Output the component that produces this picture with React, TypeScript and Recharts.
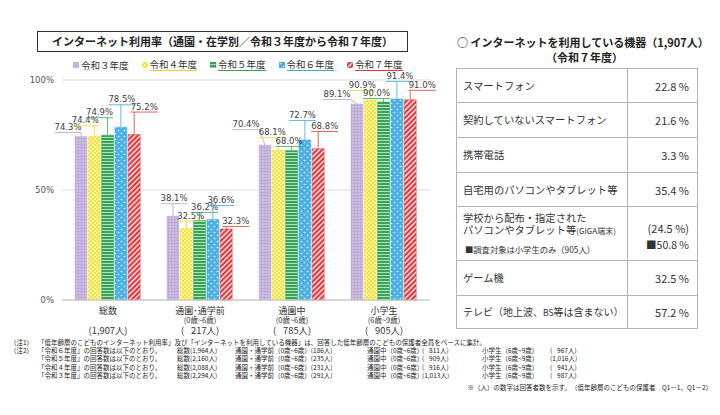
import React from 'react';
import { BarChart, Bar, XAxis, YAxis, CartesianGrid, Legend } from 'recharts';

const JP = "'Noto Sans CJK JP', 'Noto Sans', sans-serif";
const NUM = "'DejaVu Sans', sans-serif";

// chart data
const CATEGORIES = ['総数', '通園･通学前', '通園中', '小学生'];
const CATEGORY_AGES = ['', '(0歳~6歳)', '(0歳~6歳)', '(6歳~9歳)'];
const CATEGORY_COUNTS = ['(1,907人)', '(\u2007\u2009217人)', '(\u2007\u2009785人)', '(\u2007\u2009905人)'];
const YEARS = ['令和３年度', '令和４年度', '令和５年度', '令和６年度', '令和７年度'];
const R3 = [74.3, 38.1, 70.4, 89.1];
const R4 = [74.4, 32.5, 68.1, 90.9];
const R5 = [74.9, 36.2, 68.0, 90.0];
const R6 = [78.5, 36.6, 72.7, 91.4];
const R7 = [75.2, 32.3, 68.8, 91.0];
const Y_TICKS = [0, 50, 100];

// device table
const DEVICE_NAMES = [
  'スマートフォン',
  '契約していないスマートフォン',
  '携帯電話',
  '自宅用のパソコンやタブレット等',
  '学校から配布・指定された',
  'ゲーム機',
  'テレビ（地上波、BS等は含まない）',
];
const DEVICE_VALUES = [22.8, 21.6, 3.3, 35.4, 24.5, 32.5, 57.2];
const GIGA_ELEMENTARY = 50.8;

// footnote respondent counts
const NOTE_YEARS = ['令和６年度', '令和５年度', '令和４年度', '令和３年度'];
const NOTE_TOTAL = ['1,964', '2,160', '2,088', '2,294'];
const NOTE_PRE = ['186', '235', '231', '291'];
const NOTE_DAYCARE = ['\u2007\u2009811', '\u2007\u2009909', '\u2007\u2009916', '1,013'];
const NOTE_ELEM = ['\u2007\u2009967', '1,016', '\u2007\u2009941', '\u2007\u2009987'];

const SERIES = [
  { key: 'r3', values: R3, fill: 'url(#pat-r3)', base: '#c4b3dc', line: '#b5a1d2' },
  { key: 'r4', values: R4, fill: 'url(#pat-r4)', base: '#f0e13a', line: '#e6d538' },
  { key: 'r5', values: R5, fill: 'url(#pat-r5)', base: '#37a457', line: '#37a457' },
  { key: 'r6', values: R6, fill: 'url(#pat-r6)', base: '#47afe4', line: '#3aa7df' },
  { key: 'r7', values: R7, fill: 'url(#pat-r7)', base: '#e4363b', line: '#e4363b' },
];

// callout offsets [dx, dy] of each label from its bar top, per series / category
const LABEL_OFFSETS = [
  [[-13, -9.5], [1, -18], [-19, -21], [-20, -10]],
  [[-9, -16], [4.5, -13], [-6, -18], [-8, -15]],
  [[-8, -23], [5, -13.5], [-2.5, -9.5], [-7, -9]],
  [[1, -28], [8, -19.5], [-2.5, -25], [3, -23]],
  [[10, -28], [9.5, -8], [6.5, -22.6], [12, -15]],
];

const chartData = CATEGORIES.map((name, i) => {
  const row: Record<string, any> = { name };
  SERIES.forEach((s) => (row[s.key] = s.values[i]));
  return row;
});

function Patterns() {
  return (
    <svg width={0} height={0} style={{ position: 'absolute' }}>
      <defs>
        <pattern id="pat-r3" patternUnits="userSpaceOnUse" width={3} height={3}>
          <rect width={3} height={3} fill="#cdbfe2" />
          <path d="M0 0.5H3M0.5 0V3" stroke="#b7a4d3" strokeWidth={0.7} />
        </pattern>
        <pattern id="pat-r4" patternUnits="userSpaceOnUse" width={4} height={4}>
          <rect width={4} height={4} fill="#f2e33c" />
          <rect width={2} height={2} fill="#faf4a6" />
          <rect x={2} y={2} width={2} height={2} fill="#faf4a6" />
        </pattern>
        <pattern id="pat-r5" patternUnits="userSpaceOnUse" width={3} height={3}>
          <rect width={3} height={3} fill="#37a457" />
          <rect y={2} width={3} height={1} fill="#b5e0c0" />
        </pattern>
        <pattern id="pat-r6" patternUnits="userSpaceOnUse" width={6} height={6}>
          <rect width={6} height={6} fill="#4ab1e6" />
          <circle cx={1.5} cy={1.5} r={0.8} fill="#ffffff" />
          <circle cx={4.5} cy={4.5} r={0.8} fill="#ffffff" />
        </pattern>
        <pattern id="pat-r7" patternUnits="userSpaceOnUse" width={3.6} height={3.6} patternTransform="rotate(45)">
          <rect width={3.6} height={3.6} fill="#e4363b" />
          <rect width={1.3} height={3.6} fill="#ffffff" />
        </pattern>
      </defs>
    </svg>
  );
}

function makeLabel(seriesIndex: number) {
  const color = SERIES[seriesIndex].line;
  return (props: any) => {
    const { x, y, width, value, index } = props;
    const off = LABEL_OFFSETS[seriesIndex][index] || [0, -10];
    const barX = Number(x) + Number(width) / 2;
    const top = Number(y);
    const tx = barX + off[0];
    const ty = top + off[1];
    const w = 27;
    const uy = ty + 5.5;
    const px = Math.min(Math.max(barX, tx - w / 2), tx + w / 2);
    return (
      <g>
        <line x1={tx - w / 2} y1={uy} x2={tx + w / 2} y2={uy} stroke={color} strokeWidth={0.8} />
        <line x1={px} y1={uy} x2={barX} y2={top} stroke={color} strokeWidth={0.8} />
        <text x={tx} y={ty} textAnchor="middle" dominantBaseline="central" fontSize={8.5} fontFamily={NUM} fill="#404040">
          {Number(value).toFixed(1)}%
        </text>
      </g>
    );
  };
}

function CategoryTick(props: any) {
  const { x, y, payload, index } = props;
  const i = index ?? CATEGORIES.indexOf(payload.value);
  return (
    <g fontFamily={JP} fill="#333">
      <text x={x} y={y + 2} textAnchor="middle" dominantBaseline="central" fontSize={9}>
        {payload.value}
      </text>
      <text x={x} y={y + 11.5} textAnchor="middle" dominantBaseline="central" fontSize={7.5}>
        {CATEGORY_AGES[i]}
      </text>
      <text x={x} y={y + 21.5} textAnchor="middle" dominantBaseline="central" fontSize={9.3}>
        {CATEGORY_COUNTS[i]}
      </text>
    </g>
  );
}

function LegendContent() {
  return (
    <div style={{ display: 'flex', fontFamily: JP, fontSize: 9.5, color: '#333', lineHeight: '12px' }}>
      {YEARS.map((year, i) => (
        <div key={year} style={{ width: 68.5, display: 'flex', alignItems: 'center' }}>
          <svg width={6} height={6} style={{ marginRight: 2 }}>
            <rect width={6} height={6} fill={SERIES[i].fill} stroke={SERIES[i].base} strokeWidth={0.5} />
          </svg>
          <span style={{ borderBottom: i === 0 ? 'none' : `1px solid ${SERIES[i].line}` }}>{year}</span>
        </div>
      ))}
    </div>
  );
}

const cellBorder = '1px solid #b4b4b4';

function DeviceTable() {
  const heights = [34, 35, 35, 34, 54, 35, 33];
  return (
    <table
      style={{
        position: 'absolute',
        left: 456,
        top: 68,
        width: 241,
        borderCollapse: 'collapse',
        fontFamily: JP,
        color: '#333',
        tableLayout: 'fixed',
      }}
    >
      <colgroup>
        <col style={{ width: 171 }} />
        <col style={{ width: 70 }} />
      </colgroup>
      <tbody>
        {DEVICE_NAMES.map((name, i) => (
          <tr key={name} style={{ height: heights[i] }}>
            <td
              style={{
                border: cellBorder,
                padding: '0 0 0 6px',
                fontSize: i === 6 ? 10 : 10.3,
                lineHeight: '12px',
                whiteSpace: 'nowrap',
              }}
            >
              {i === 4 ? (
                <div>
                  <div>{name}</div>
                  <div>
                    パソコンやタブレット等<span style={{ fontSize: 8 }}>(GIGA端末)</span>
                  </div>
                  <div style={{ fontSize: 8.3, marginTop: 6, paddingLeft: 2 }}>■調査対象は小学生のみ（905人）</div>
                </div>
              ) : i === 6 ? (
                <span>
                  テレビ（地上波、<span style={{ fontSize: 8.5 }}>BS</span>等は含まない）
                </span>
              ) : (
                name
              )}
            </td>
            <td style={{ border: cellBorder, padding: '0 8px 0 0', textAlign: 'right', fontSize: 11, lineHeight: '14px' }}>
              {i === 4 ? (
                <div>
                  <div style={{ marginTop: 6 }}>({DEVICE_VALUES[i].toFixed(1)} %)</div>
                  <div style={{ marginTop: 3, fontSize: 10.5 }}>■{GIGA_ELEMENTARY.toFixed(1)} %</div>
                </div>
              ) : (
                `${DEVICE_VALUES[i].toFixed(1)} %`
              )}
            </td>
          </tr>
        ))}
      </tbody>
    </table>
  );
}

function Note({ x, y, children, right }: { x: number; y: number; children: React.ReactNode; right?: boolean }) {
  const style: React.CSSProperties = {
    position: 'absolute',
    top: y - 4,
    whiteSpace: 'pre',
    fontFamily: JP,
    fontSize: 6.5,
    lineHeight: '8px',
    color: '#222',
  };
  if (right) style.right = 720 - x;
  else style.left = x;
  return <div style={style}>{children}</div>;
}

function Footnotes() {
  const rowY = [350, 358.3, 366.6, 375];
  return (
    <>
      <Note x={10} y={342}>（注1）</Note>
      <Note x={38} y={342}>
        「低年齢層のこどものインターネット利用率」及び「インターネットを利用している機器」は、回答した低年齢層のこどもの保護者全員をベースに集計。
      </Note>
      <Note x={10} y={350}>（注2）</Note>
      {NOTE_YEARS.map((year, i) => (
        <React.Fragment key={year}>
          <Note x={38} y={rowY[i]}>「{year}」の回答数は以下のとおり。</Note>
          <Note x={177} y={rowY[i]}>総数({NOTE_TOTAL[i]}人)</Note>
          <Note x={235} y={rowY[i]}>通園・通学前（0歳~6歳）({NOTE_PRE[i]}人)</Note>
          <Note x={367} y={rowY[i]}>通園中（0歳~6歳）</Note>
          <Note x={422} y={rowY[i]}>({NOTE_DAYCARE[i]}人)</Note>
          <Note x={482} y={rowY[i]}>小学生（6歳~9歳）</Note>
          <Note x={550} y={rowY[i]}>({NOTE_ELEM[i]}人)</Note>
        </React.Fragment>
      ))}
      <Note x={712} y={387} right>
        ※（人）の数字は回答者数を示す。　（低年齢層のこどもの保護者　Q1－1、Q1－2）
      </Note>
    </>
  );
}

export default function App() {
  return (
    <div
      style={{
        position: 'absolute',
        left: 0,
        top: 0,
        width: 720,
        height: 415,
        background: '#fff',
        overflow: 'hidden',
      }}
    >
      <Patterns />

      <div
        style={{
          position: 'absolute',
          left: 37,
          top: 31,
          width: 369,
          height: 19,
          border: '1px solid #333',
          fontFamily: JP,
          fontWeight: 700,
          fontSize: 11,
          lineHeight: '19px',
          textAlign: 'center',
          color: '#222',
        }}
      >
        インターネット利用率（通園・在学別／令和３年度から令和７年度）
      </div>

      <div style={{ position: 'absolute', left: 0, top: 0 }}>
        <BarChart
          width={445}
          height={340}
          data={chartData}
          margin={{ top: 80, right: 15, bottom: 0, left: 0 }}
          barSize={12}
          barGap={1.3}
        >
          <CartesianGrid vertical={false} stroke="#d9d9d9" />
          <XAxis
            dataKey="name"
            interval={0}
            height={40}
            tickLine={false}
            axisLine={{ stroke: '#c4c4c4' }}
            tick={<CategoryTick />}
          />
          <YAxis
            domain={[0, 100]}
            ticks={Y_TICKS}
            width={62}
            axisLine={false}
            tickLine={false}
            tickFormatter={(v: number) => `${v}%`}
            tick={{ fontSize: 8.5, fill: '#555', fontFamily: NUM }}
          />
          <Legend
            layout="horizontal"
            verticalAlign="middle"
            align="center"
            wrapperStyle={{ top: 58, left: 73, width: 360, height: 14 }}
            content={() => <LegendContent />}
          />
          {SERIES.map((s, i) => (
            <Bar
              key={s.key}
              dataKey={s.key}
              name={YEARS[i]}
              fill={s.fill}
              stroke={s.base}
              strokeWidth={0.5}
              isAnimationActive={false}
              label={makeLabel(i)}
            />
          ))}
        </BarChart>
      </div>

      <div
        style={{
          position: 'absolute',
          left: 440,
          top: 35,
          width: 280,
          fontFamily: JP,
          fontWeight: 700,
          fontSize: 11,
          lineHeight: '15px',
          color: '#222',
        }}
      >
        <div style={{ paddingLeft: 17 }}>○ インターネットを利用している機器（1,907人）</div>
        <div style={{ paddingLeft: 106 }}>（令和７年度）</div>
      </div>

      <DeviceTable />
      <Footnotes />
    </div>
  );
}
